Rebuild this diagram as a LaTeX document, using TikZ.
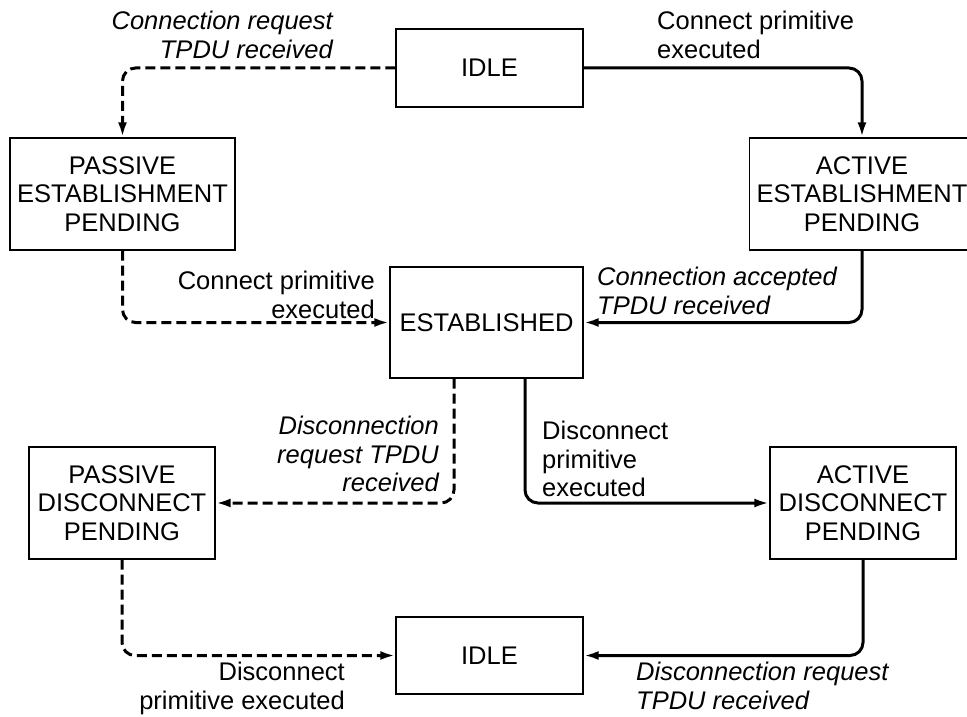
\documentclass[tikz,border=0pt]{standalone}
\usepackage{fontspec}
\setmainfont{Liberation Sans}
\usetikzlibrary{arrows.meta,calc}
\begin{document}
\begin{tikzpicture}[x=1pt,y=-1pt,
  every node/.style={font=\fontsize{25.5}{28.5}\selectfont},
  itl/.style={font=\fontsize{25.5}{28.5}\selectfont\itshape},
  state/.style={draw, line width=1.4pt, inner sep=0pt, align=center},
  lbl/.style={inner sep=0pt},
  conn/.style={line width=3pt, rounded corners=13pt, -{Latex[length=15pt,width=9pt]}},
  dsh/.style={conn, dash pattern=on 10pt off 5pt},
]
\useasboundingbox (0,0) rectangle (967,717);
% states
\node[state, minimum width=187pt, minimum height=78pt] (idle1) at (489.5,68) {IDLE};
\node[state, minimum width=225pt, minimum height=112pt] (pest) at (122.5,194) {PASSIVE\\ESTABLISHMENT\\PENDING};
\node[state, minimum width=225pt, minimum height=112pt] (aest) at (862,194) {ACTIVE\\ESTABLISHMENT\\PENDING};
\node[state, minimum width=193pt, minimum height=111pt] (est) at (486.5,322.5) {ESTABLISHED};
\node[state, minimum width=186pt, minimum height=112pt] (pdis) at (122,503) {PASSIVE\\DISCONNECT\\PENDING};
\node[state, minimum width=186pt, minimum height=112pt] (adis) at (863,503) {ACTIVE\\DISCONNECT\\PENDING};
\node[state, minimum width=187pt, minimum height=77pt] (idle2) at (489.5,655.5) {IDLE};
% connectors
\draw[dsh] (idle1.west) -| (pest.north);
\draw[conn] (idle1.east) -| (aest.north);
\draw[dsh] (pest.south) |- (est.west);
\draw[conn] (aest.south) |- (est.east);
\draw[dsh] ([xshift=-32.5pt]est.south) |- (pdis.east);
\draw[conn] ([xshift=38.5pt]est.south) |- (adis.west);
\draw[dsh] (pdis.south) |- (idle2.west);
\draw[conn] (adis.south) |- (idle2.east);
% labels
\node[lbl, itl, anchor=north east, align=right] (l1) at (333,11) {Connection request\\TPDU received};
\node[lbl, anchor=north west, align=left] (l2) at (657,11) {Connect primitive\\executed};
\node[lbl, anchor=north east, align=right] (l3) at (375,271) {Connect primitive\\executed};
\node[lbl, itl, anchor=north west, align=left] (l4) at (597,267) {Connection accepted\\TPDU received};
\node[lbl, itl, anchor=north east, align=right] (l5) at (439,416) {Disconnection\\request TPDU\\received};
\node[lbl, anchor=north west, align=left] (l6) at (542,421) {Disconnect\\primitive\\executed};
\node[lbl, anchor=north east, align=right] (l7) at (345,662) {Disconnect\\primitive executed};
\node[lbl, itl, anchor=north west, align=left] (l8) at (636,662) {Disconnection request\\TPDU received};
\end{tikzpicture}
\end{document}
